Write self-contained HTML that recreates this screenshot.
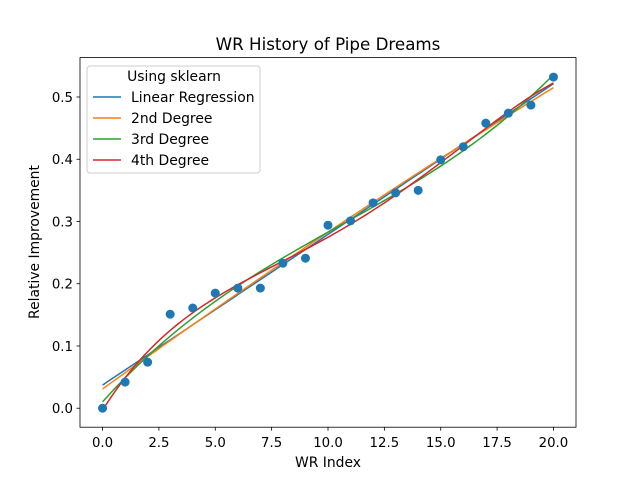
<!DOCTYPE html>
<html><head><meta charset="utf-8"><style>
body{margin:0;background:#fff}
svg text{font-family:"DejaVu Sans","Liberation Sans",sans-serif;fill:#000}
</style></head><body>
<svg id="chart" width="640" height="480" xmlns="http://www.w3.org/2000/svg">
<rect width="640" height="480" fill="#fff"/>
<text x="328" y="50" font-size="16.7" text-anchor="middle">WR History of Pipe Dreams</text>
<g id="xticks"></g>
<g id="yticks"></g>
<g id="fits"></g>
<g id="pts"></g>
<rect x="80" y="57.6" width="496" height="369.6" fill="none" stroke="#000" stroke-width="0.8"/>
<text x="328" y="467" font-size="13.9" text-anchor="middle">WR Index</text>
<text transform="translate(39,242) rotate(-90)" font-size="13.9" text-anchor="middle">Relative Improvement</text>
<g>
<rect x="87" y="66" width="173" height="107" rx="3" fill="#fff" fill-opacity="0.8" stroke="#ccc" stroke-width="1"/>
<text x="174" y="81" font-size="13.9" text-anchor="middle">Using sklearn</text>
<g id="legend-items"></g>
</g>
</svg>
<script>
const xs=[0,1,2,3,4,5,6,7,8,9,10,11,12,13,14,15,16,17,18,19,20];
const ys=[0,0.042,0.074,0.151,0.161,0.185,0.193,0.193,0.233,0.241,0.294,0.301,0.330,0.346,0.350,0.399,0.420,0.458,0.474,0.487,0.532];
const seriesNames=["Linear Regression","2nd Degree","3rd Degree","4th Degree"];
const degrees=[1,2,3,4];
const colors=["#1f77b4","#ff7f0e","#2ca02c","#d62728"];
const xTicks=[0,2.5,5,7.5,10,12.5,15,17.5,20];
const xTickLabels=["0.0","2.5","5.0","7.5","10.0","12.5","15.0","17.5","20.0"];
const yTicks=[0,0.1,0.2,0.3,0.4,0.5];
const yTickLabels=["0.0","0.1","0.2","0.3","0.4","0.5"];
const NS="http://www.w3.org/2000/svg";
const L=80,R=576,T=57.6,B=427.2;
const xmin=-1,xmax=21,ymin=-0.0305,ymax=0.5633;
const sx=v=>L+(v-xmin)/(xmax-xmin)*(R-L);
const sy=v=>B-(v-ymin)/(ymax-ymin)*(B-T);
function mk(tag,attrs,parent){const e=document.createElementNS(NS,tag);for(const k in attrs)e.setAttribute(k,attrs[k]);parent.appendChild(e);return e;}
const xg=document.getElementById('xticks');
xTicks.forEach((t,i)=>{
 const l=mk('line',{x1:sx(t),x2:sx(t),y1:B,y2:B+3.5,stroke:'#000','stroke-width':0.8},xg);
 
 
 const tx=mk('text',{x:sx(t),y:B+20,'font-size':13.3,'text-anchor':'middle'},xg);tx.textContent=xTickLabels[i];
 
 
});
const yg=document.getElementById('yticks');
yTicks.forEach((t,i)=>{
 const l=mk('line',{x1:L-3.5,x2:L,y1:sy(t),y2:sy(t),stroke:'#000','stroke-width':0.8},yg);
 
 
 const tx=mk('text',{x:L-7,y:sy(t)+5,'font-size':13.3,'text-anchor':'end'},yg);tx.textContent=yTickLabels[i];
 
 
});
function polyfit(d){
 const n=d+1,A=[],b=[];
 for(let i=0;i<n;i++){A.push(new Array(n).fill(0));b.push(0);}
 xs.forEach((x,k)=>{const u=x/10;for(let i=0;i<n;i++){b[i]+=Math.pow(u,i)*ys[k];for(let j=0;j<n;j++)A[i][j]+=Math.pow(u,i+j);}});
 for(let i=0;i<n;i++){let p=i;for(let r=i+1;r<n;r++)if(Math.abs(A[r][i])>Math.abs(A[p][i]))p=r;
  [A[i],A[p]]=[A[p],A[i]];[b[i],b[p]]=[b[p],b[i]];
  for(let r=i+1;r<n;r++){const f=A[r][i]/A[i][i];for(let c=i;c<n;c++)A[r][c]-=f*A[i][c];b[r]-=f*b[i];}}
 const c=new Array(n).fill(0);
 for(let i=n-1;i>=0;i--){let s=b[i];for(let j=i+1;j<n;j++)s-=A[i][j]*c[j];c[i]=s/A[i][i];}
 return x=>c.reduce((s,ci,i)=>s+ci*Math.pow(x/10,i),0);
}
const fg=document.getElementById('fits');
const lg=document.getElementById('legend-items');
degrees.forEach((d,i)=>{
 const f=polyfit(d);let pts=[];
 for(let k=0;k<=100;k++){const x=xs[0]+(xs[xs.length-1]-xs[0])*k/100;pts.push(sx(x).toFixed(2)+','+sy(f(x)).toFixed(2));}
 const pl=mk('polyline',{points:pts.join(' '),fill:'none',stroke:colors[i],'stroke-width':1.5},fg);
 
 
 const y=97+i*21;
 const ll=mk('line',{x1:93,x2:121,y1:y,y2:y,stroke:colors[i],'stroke-width':1.5},lg);
 
 
 const lt=mk('text',{x:131,y:y+5,'font-size':13.9},lg);lt.textContent=seriesNames[i];
 
 
});
const pg=document.getElementById('pts');
xs.forEach((x,i)=>{
 const c=mk('circle',{cx:sx(x),cy:sy(ys[i]),r:4.5,fill:'#1f77b4'},pg);
 
 
});
</script>
</body></html>
